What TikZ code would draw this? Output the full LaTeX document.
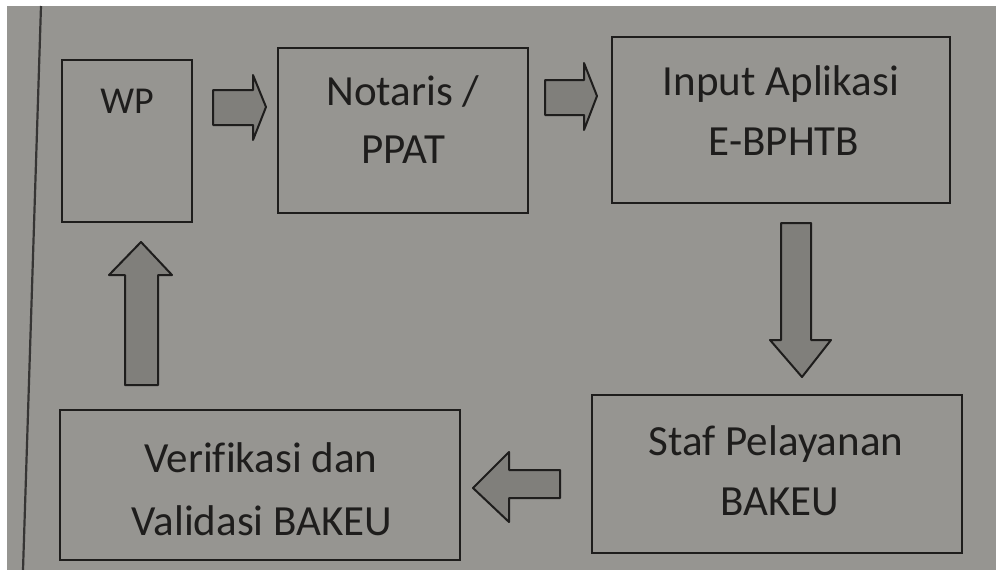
\documentclass[tikz,border=0pt]{standalone}
\usepackage{fontspec}
\setmainfont[Ligatures=NoCommon]{Carlito}
\definecolor{paper}{RGB}{150,149,145}
\definecolor{ink}{RGB}{30,29,28}
\definecolor{arrowfill}{RGB}{128,127,123}
\tikzset{
  box/.style={draw=ink, line width=2pt, fill=paper},
  lbl/.style={anchor=base, inner sep=0pt, text=ink, font=\fontsize{43}{50}\selectfont},
  blockarrow/.style={draw=ink, line width=2pt, fill=arrowfill, line join=round}
}
\begin{document}
\begin{tikzpicture}[x=1pt,y=-1pt]
\useasboundingbox (0,0) rectangle (996,570);
\fill[white] (0,0) rectangle (996,570);
\fill[paper] (7,6) rectangle (996,570);
% page margin line
\draw[ink!80!paper, line width=2.2pt] (41,6) -- (23,570);

% boxes
\draw[box] (62,60) rectangle (192,222);
\node[inner sep=0pt] (wp) at (127,141) {};
\draw[box] (278,48) rectangle (528,213);
\node[inner sep=0pt] (notaris) at (403,130) {};
\draw[box] (612,37) rectangle (950,203);
\node[inner sep=0pt] (input) at (781,120) {};
\draw[box] (592,395) rectangle (962,553);
\node[inner sep=0pt] (staf) at (777,474) {};
\draw[box] (60,410) rectangle (460,560);
\node[inner sep=0pt] (verif) at (260,485) {};

% labels
\node[lbl, font=\fontsize{38}{46}\selectfont] (wpT) at (127,113) {WP};
\node[lbl] (notT1) at (403,105) {Notaris /};
\node[lbl] (notT2) at (403,163) {PPAT};
\node[lbl] (inT1) at (781,95) {Input Aplikasi};
\node[lbl] (inT2) at (784,155) {E-BPHTB};
\node[lbl] (stT1) at (776,455) {Staf Pelayanan};
\node[lbl] (stT2) at (780,515) {BAKEU};
\node[lbl] (veT1) at (261,472) {Verifikasi dan};
\node[lbl] (veT2) at (262,535) {Validasi BAKEU};

% block arrows
\draw[blockarrow] (213,90) -- (253,90) -- (253,75) -- (266,107) -- (253,140) -- (253,125) -- (213,125) -- cycle;
\draw[blockarrow] (545,80) -- (584,80) -- (584,63) -- (597,96) -- (584,130) -- (584,115) -- (545,115) -- cycle;
\draw[blockarrow] (781,223) -- (811,223) -- (811,340) -- (831,340) -- (802,377) -- (770,340) -- (781,340) -- cycle;
\draw[blockarrow] (560,470) -- (509,470) -- (509,452) -- (473,488) -- (509,522) -- (509,498) -- (560,498) -- cycle;
\draw[blockarrow] (125,385) -- (125,275) -- (109,275) -- (141,242) -- (172,275) -- (158,275) -- (158,385) -- cycle;
\end{tikzpicture}
\end{document}
